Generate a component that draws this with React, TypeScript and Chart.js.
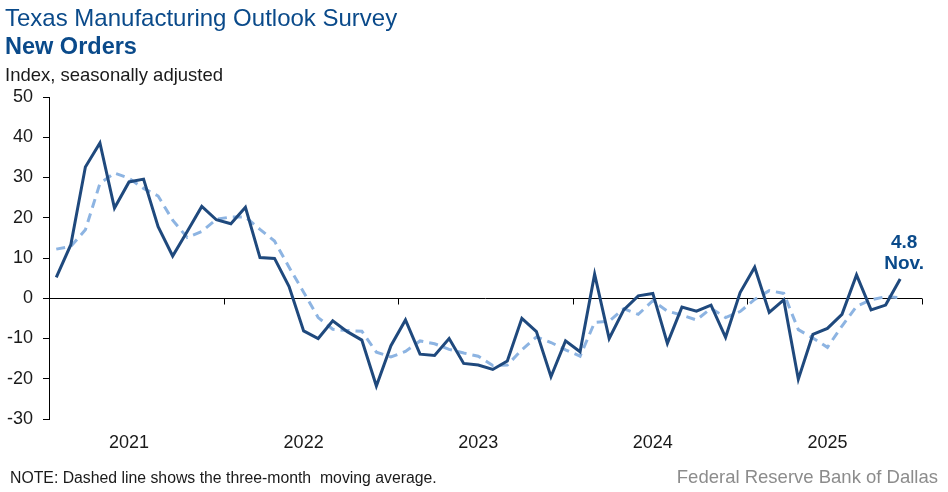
import React, { useEffect, useRef } from 'react';
import { Chart, registerables } from 'chart.js';

Chart.register(...registerables);

const years = ['2021', '2022', '2023', '2024', '2025'];
const monthNames = ['Jan', 'Feb', 'Mar', 'Apr', 'May', 'Jun', 'Jul', 'Aug', 'Sep', 'Oct', 'Nov', 'Dec'];
const categories = years.flatMap((y) => monthNames.map((m) => `${m} ${y}`));

const newOrders = [
  5.2, 13.3, 32.6, 38.6, 22.4, 28.9, 29.6, 17.8, 10.5, 16.6, 22.8, 19.5,
  18.5, 22.6, 10.1, 9.9, 2.9, -8.1, -10.0, -5.6, -8.3, -10.4, -21.8, -11.8,
  -5.4, -13.9, -14.2, -10.0, -16.2, -16.6, -17.7, -15.6, -5.0, -8.3, -19.5, -10.6,
  -13.3, 6.0, -10.0, -2.9, 0.6, 1.2, -11.2, -2.2, -3.2, -1.7, -9.7, 1.4,
  7.7, -3.5, -0.4, -20.1, -9.0, -7.5, -4.0, 5.8, -2.9, -1.7, 4.8,
];

const movingAverage = [
  12.2, 12.9, 17.0, 28.5, 31.1, 29.8, 27.3, 25.4, 19.4, 15.1, 16.6, 19.6,
  20.2, 20.2, 17.1, 14.2, 7.7, 1.5, -4.8, -7.7, -8.0, -8.2, -13.4, -14.6,
  -13.2, -10.6, -11.3, -12.7, -13.6, -14.4, -16.7, -16.6, -12.8, -9.6, -11.0, -12.8,
  -14.4, -6.0, -5.7, -2.6, -4.0, -0.6, -3.2, -4.2, -5.4, -2.5, -4.8, -3.3,
  -0.3, 1.9, 1.2, -7.8, -9.9, -12.2, -6.9, -2.0, -0.4, 0.4, 0.1,
];

const yTicks = [-30, -20, -10, 0, 10, 20, 30, 40, 50];

const titleText = 'Texas Manufacturing Outlook Survey';
const subtitleText = 'New Orders';
const unitText = 'Index, seasonally adjusted';
const noteText = 'NOTE: Dashed line shows the three-month  moving average.';
const sourceText = 'Federal Reserve Bank of Dallas';
const lastValueText = '4.8';
const lastMonthText = 'Nov.';

const FONT = '"Liberation Sans", Arial, Helvetica, sans-serif';
const BLUE_TEXT = '#0a4a8a';
const MAIN = '#1f497d';
const LIGHT = '#8db4e2';

const overlayPlugin = {
  id: 'overlay',
  beforeDatasetsDraw(chart: any) {
    const { ctx, chartArea, scales } = chart;
    const x = scales.x;
    const y0 = Math.round(scales.y.getPixelForValue(0)) + 0.5;
    ctx.save();
    ctx.strokeStyle = '#000';
    ctx.lineWidth = 1;
    ctx.beginPath();
    ctx.moveTo(chartArea.left, y0);
    ctx.lineTo(chartArea.right, y0);
    for (let k = 1; k <= years.length; k++) {
      const idx = k * 12;
      let px: number;
      if (idx >= categories.length) {
        px = chartArea.right;
      } else {
        px = (x.getPixelForValue(idx - 1) + x.getPixelForValue(idx)) / 2;
      }
      px = Math.round(px) + 0.5;
      ctx.moveTo(px, y0);
      ctx.lineTo(px, y0 + 6);
    }
    ctx.stroke();
    ctx.restore();
  },
  afterDraw(chart: any) {
    const { ctx, scales } = chart;
    ctx.save();
    ctx.textBaseline = 'alphabetic';
    ctx.textAlign = 'left';
    ctx.fillStyle = BLUE_TEXT;
    ctx.font = `24px ${FONT}`;
    ctx.fillText(titleText, 5, 26);
    ctx.font = `bold 23.5px ${FONT}`;
    ctx.fillText(subtitleText, 5, 54);
    ctx.fillStyle = '#1a1a1a';
    ctx.font = `18.5px ${FONT}`;
    ctx.fillText(unitText, 5, 81);
    ctx.font = `15.8px ${FONT}`;
    ctx.fillText(noteText, 10, 483);
    ctx.fillStyle = '#8c8c8c';
    ctx.textAlign = 'right';
    ctx.font = `18.5px ${FONT}`;
    ctx.fillText(sourceText, 938, 483);

    const lastIdx = newOrders.length - 1;
    const lx = scales.x.getPixelForValue(lastIdx) + 4;
    ctx.textAlign = 'center';
    ctx.fillStyle = BLUE_TEXT;
    ctx.font = `bold 19px ${FONT}`;
    ctx.fillText(lastValueText, lx, 248);
    ctx.fillText(lastMonthText, lx, 269);
    ctx.restore();
  },
};

export default function App() {
  const canvasRef = useRef<HTMLCanvasElement | null>(null);

  useEffect(() => {
    const canvas = canvasRef.current;
    if (!canvas) return;
    const chart = new Chart(canvas, {
      type: 'line',
      data: {
        labels: categories,
        datasets: [
          {
            label: 'New orders',
            data: newOrders,
            borderColor: MAIN,
            borderWidth: 3,
            pointRadius: 0,
            tension: 0,
            fill: false,
            borderJoinStyle: 'miter',
          },
          {
            label: 'Three-month moving average',
            data: movingAverage,
            borderColor: LIGHT,
            borderWidth: 3,
            borderDash: [9, 6],
            pointRadius: 0,
            tension: 0,
            fill: false,
          },
        ],
      },
      options: {
        animation: false,
        responsive: false,
        devicePixelRatio: 1,
        layout: { padding: { top: 97, right: 26, bottom: 0, left: 0 } },
        plugins: {
          legend: { display: false },
          title: { display: false },
          tooltip: { enabled: false },
        },
        scales: {
          x: {
            type: 'category',
            offset: true,
            grid: { display: false, drawTicks: false },
            border: { display: false },
            ticks: {
              autoSkip: false,
              maxRotation: 0,
              minRotation: 0,
              padding: 13,
              color: '#1a1a1a',
              font: { family: FONT, size: 18 },
              callback: (_v: any, idx: number) => (idx % 12 === 5 ? years[Math.floor(idx / 12)] : ''),
            },
            afterFit: (scale: any) => {
              scale.height = 73;
            },
          },
          y: {
            min: -30,
            max: 50,
            afterBuildTicks: (scale: any) => {
              scale.ticks = yTicks.map((v) => ({ value: v }));
            },
            grid: {
              drawOnChartArea: false,
              drawTicks: true,
              tickLength: 6,
              tickColor: '#000',
            },
            border: { display: true, color: '#000', width: 1 },
            ticks: {
              padding: 10,
              color: '#1a1a1a',
              font: { family: FONT, size: 18 },
            },
            afterFit: (scale: any) => {
              scale.width = 49;
            },
          },
        },
      },
      plugins: [overlayPlugin],
    });
    return () => chart.destroy();
  }, []);

  return (
    <div style={{ position: 'absolute', left: 0, top: 0, width: 948, height: 492, background: '#fff' }}>
      <canvas ref={canvasRef} width={948} height={492} style={{ display: 'block' }} />
    </div>
  );
}
